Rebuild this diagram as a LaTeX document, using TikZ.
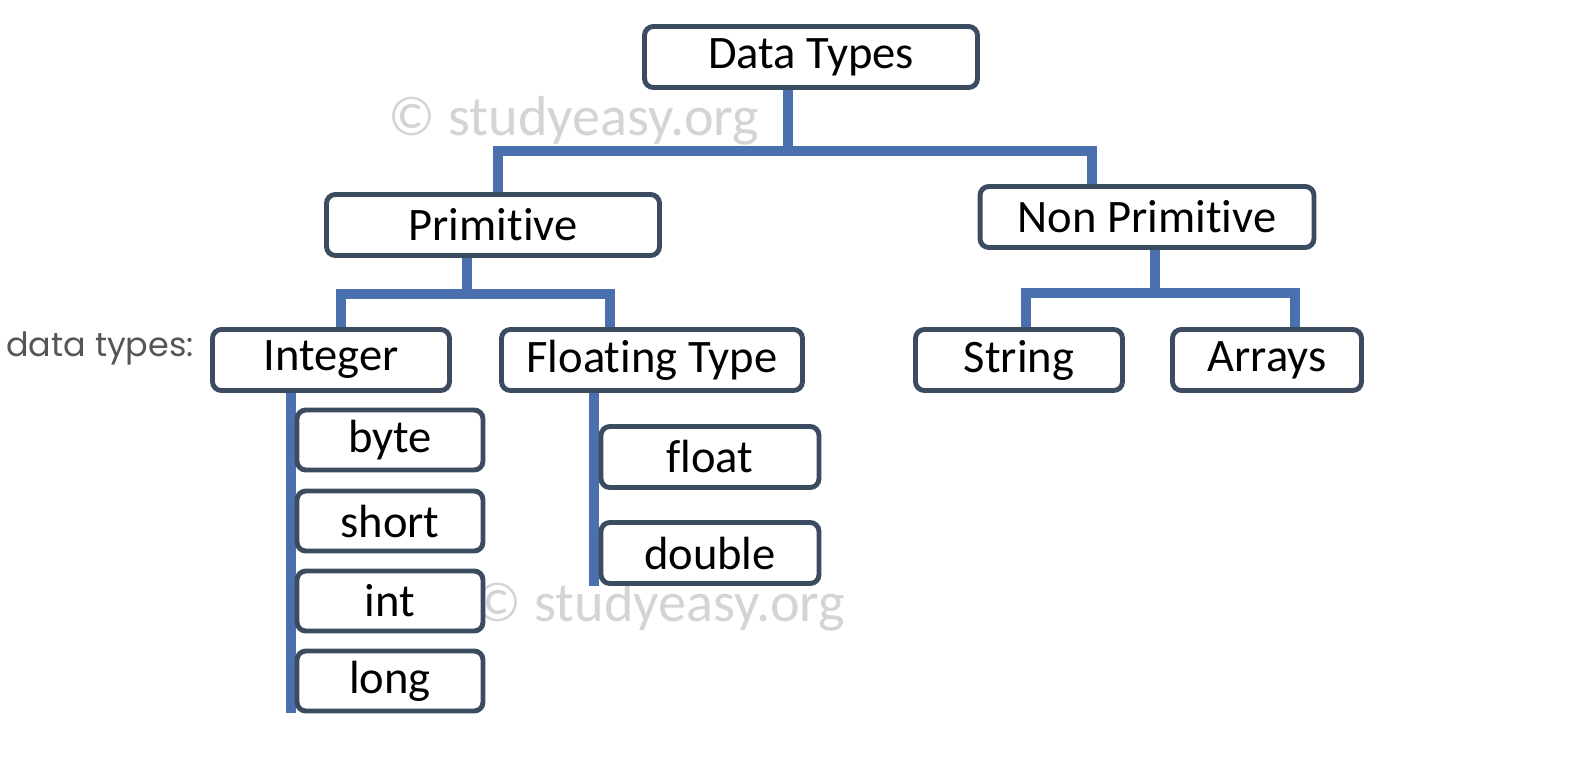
\documentclass[tikz,border=0pt]{standalone}
\usepackage{fontspec}
\setmainfont{Carlito}[Ligatures=NoCommon]
\newfontfamily\poppins{Poppins}
\usetikzlibrary{backgrounds}

\definecolor{boxline}{HTML}{3C4C60}
\definecolor{linkblue}{HTML}{4A70AE}
\definecolor{markgray}{HTML}{D4D4D4}
\definecolor{captiongray}{HTML}{555555}

\tikzset{
  typebox/.style={draw=boxline, line width=2.8pt, rounded corners=5pt, fill=white,
    inner sep=0pt, minimum height=1.22cm, font=\fontsize{26.5}{30}\selectfont},
  link/.style={draw=linkblue, line width=6pt},
  watermark/.style={text=markgray, inner sep=0pt, font=\fontsize{32}{36}\selectfont}
}

\begin{document}
\begin{tikzpicture}[x=0.02cm, y=-0.02cm]
% Page frame (pixel grid of the reference)
\useasboundingbox (0,0) rectangle (1593,761);

% Watermarks
\node[watermark] (mark1) at (574,121) {© studyeasy.org};
\node[watermark] (mark2) at (660,607) {© studyeasy.org};

% Caption on the left
\node[font=\poppins\fontsize{19}{22}\selectfont, text=captiongray, inner sep=0pt] (caption) at (100,348) {data types:};

% Top of the tree
\node[typebox, minimum width=6.66cm] (dt) at (811,57) {Data Types};
\node[typebox, minimum width=6.66cm] (prim) at (493,225) {Primitive};
\node[typebox, minimum width=6.68cm] (nprim) at (1147,217) {Non Primitive};

% Second level
\node[typebox, minimum width=4.74cm] (integer) at (331,360) {Integer};
\node[typebox, minimum width=6.02cm] (floating) at (652,360) {Floating Type};
\node[typebox, minimum width=4.14cm] (string) at (1019,360) {String};
\node[typebox, minimum width=3.78cm] (arrays) at (1267,360) {Arrays};

% Integer members
\node[typebox, minimum width=3.72cm, minimum height=1.2cm] (byte) at (390,440) {byte};
\node[typebox, minimum width=3.72cm, minimum height=1.2cm] (short) at (390,521) {short};
\node[typebox, minimum width=3.72cm, minimum height=1.2cm] (int) at (390,601) {int};
\node[typebox, minimum width=3.72cm, minimum height=1.2cm] (long) at (390,681) {long};

% Floating members
\node[typebox, minimum width=4.36cm] (float) at (710,457) {float};
\node[typebox, minimum width=4.36cm] (double) at (710,553) {double};

% Junction points of the connectors
\coordinate (topj) at (788,151);
\coordinate (topL) at (498,151);
\coordinate (topR) at (1092,151);
\coordinate (pj) at (467,294);
\coordinate (pL) at (341,294);
\coordinate (pR) at (610,294);
\coordinate (nj) at (1155,293);
\coordinate (nL) at (1026,293);
\coordinate (nR) at (1295,293);
\coordinate (ibar) at (291,0);
\coordinate (fbar) at (594,0);

% Connectors, behind the boxes
\begin{scope}[on background layer]
\fill[white] (0,0) rectangle (1593,761);
\draw[link] (dt.south -| topj) -- (topj);
\draw[link] (prim.north -| topL) -- (topL) -- (topR) -- (nprim.north -| topR);
\draw[link] (prim.south -| pj) -- (pj);
\draw[link] (integer.north -| pL) -- (pL) -- (pR) -- (floating.north -| pR);
\draw[link] (nprim.south -| nj) -- (nj);
\draw[link] (string.north -| nL) -- (nL) -- (nR) -- (arrays.north -| nR);
\draw[link] (integer.south -| ibar) -- (long.south -| ibar);
\draw[link] (floating.south -| fbar) -- (double.south -| fbar);
\end{scope}
\end{tikzpicture}
\end{document}
